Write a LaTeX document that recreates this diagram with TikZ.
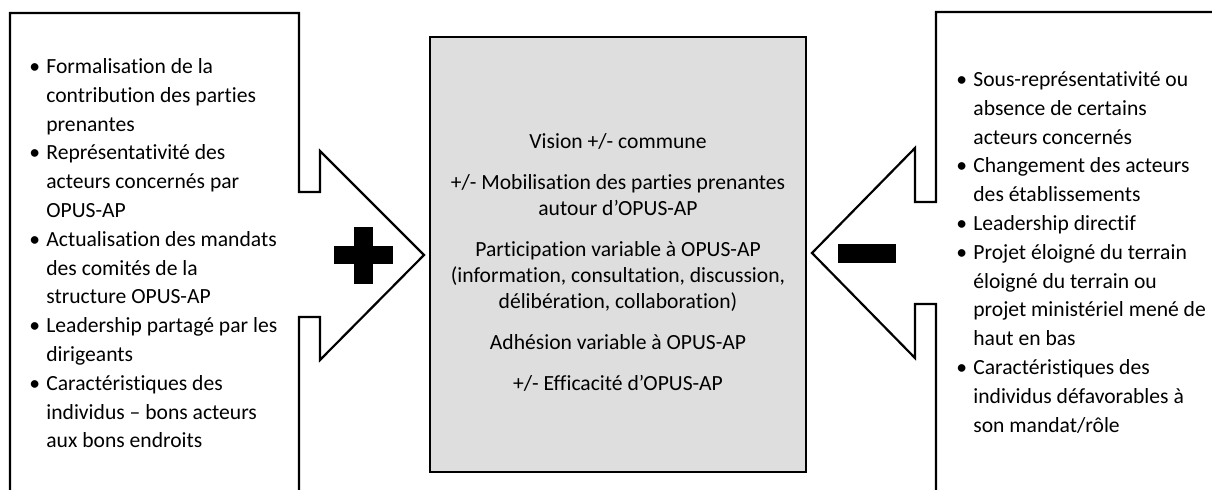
\documentclass[tikz,border=0pt]{standalone}
\usepackage{fontspec}
\setmainfont[Ligatures=NoCommon]{Carlito}
\usepackage{tikz}
\usepackage{xcolor}
\definecolor{boxgray}{HTML}{DEDEDE}
\newcommand{\puce}{\makebox[8.5pt][l]{\textbullet}}

\begin{document}
\begin{tikzpicture}[x=0.5pt, y=-0.5pt,
    outline/.style={draw=black, line width=1.1pt, line join=miter},
    listtext/.style={anchor=north west, inner sep=0pt,
                     font=\fontsize{10.8}{14.4}\selectfont}]
  \useasboundingbox (0,0) rectangle (1212,489);

  % left callout arrow (favourable factors)
  \draw[outline] (10,500) -- (10,13) -- (299,13) -- (299,192) -- (320,192)
    -- (320,151) -- (424,255) -- (320,360) -- (320,317) -- (299,317) -- (299,500);
  % right callout arrow (unfavourable factors)
  \draw[outline] (1220,12) -- (936,12) -- (936,202) -- (915,202) -- (915,148)
    -- (812,253) -- (915,358) -- (915,304) -- (936,304) -- (936,500);

  % central box
  \node[outline, fill=boxgray, minimum width=188pt, minimum height=217.5pt,
        inner sep=0pt] (effets) at (618,254.5) {};

  % signs
  \fill (334,246) rectangle (393,264);
  \fill (354,227) rectangle (373,284);
  \fill (838,244) rectangle (896,263);

  \node[listtext] (pour) at (29,53) {%
    \begin{tabular}{@{}l@{}l@{}}
      \puce & Formalisation de la\\
            & contribution des parties\\
            & prenantes\\
      \puce & Représentativité des\\
            & acteurs concernés par\\
            & OPUS-AP\\
      \puce & Actualisation des mandats\\
            & des comités de la\\
            & structure OPUS-AP\\
      \puce & Leadership partagé par les\\
            & dirigeants\\
      \puce & Caractéristiques des\\
            & individus – bons acteurs\\
            & aux bons endroits
    \end{tabular}};

  \node[listtext] (contre) at (956,66) {%
    \begin{tabular}{@{}l@{}l@{}}
      \puce & Sous-représentativité ou\\
            & absence de certains\\
            & acteurs concernés\\
      \puce & Changement des acteurs\\
            & des établissements\\
      \puce & Leadership directif\\
      \puce & Projet éloigné du terrain\\
            & éloigné du terrain ou\\
            & projet ministériel mené de\\
            & haut en bas\\
      \puce & Caractéristiques des\\
            & individus défavorables à\\
            & son mandat/rôle
    \end{tabular}};

  \node[align=center, inner sep=0pt, font=\fontsize{10.8}{13}\selectfont]
    (resultats) at (618,262) {%
    Vision +/- commune\\[7.5pt]
    +/- Mobilisation des parties prenantes\\
    autour d’OPUS-AP\\[7.5pt]
    Participation variable à OPUS-AP\\
    (information, consultation, discussion,\\
    délibération, collaboration)\\[7.5pt]
    Adhésion variable à OPUS-AP\\[7.5pt]
    +/- Efficacité d’OPUS-AP};
\end{tikzpicture}
\end{document}
